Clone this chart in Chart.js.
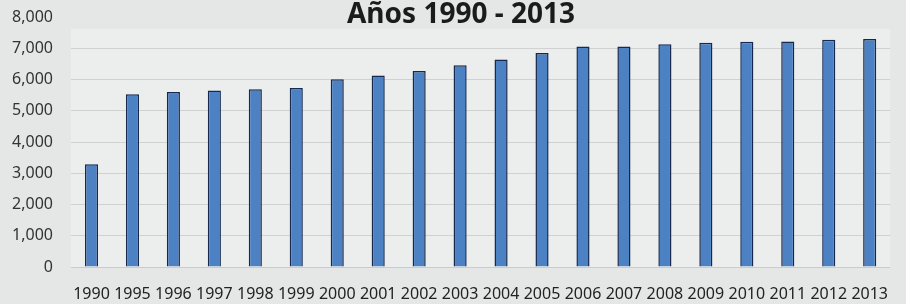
<!DOCTYPE html>
<html>
<head>
<meta charset="utf-8">
<script src="https://cdn.jsdelivr.net/npm/chart.js@4"></script>
<style>
    html, body { margin: 0; padding: 0; background: #e5e6e6; }
    #wrap { width: 906px; height: 304px; }
</style>
</head>
<body>
<div id="wrap"><canvas id="chart"></canvas></div>
<script>
// datos
const years = ['1990', '1995', '1996', '1997', '1998', '1999', '2000', '2001', '2002', '2003',
    '2004', '2005', '2006', '2007', '2008', '2009', '2010', '2011', '2012', '2013'];
const values = [3290, 5530, 5600, 5650, 5690, 5730, 6010, 6130, 6270, 6460,
    6640, 6850, 7060, 7060, 7130, 7180, 7210, 7220, 7270, 7300];
const titleText = 'Años 1990 - 2013';
const yMax = 8000;
const yStep = 1000;

Chart.defaults.font.family = "'Noto Sans', sans-serif";

const bgPlugin = {
    id: 'bg',
    beforeDraw(chart) {
        const ctx = chart.ctx;
        const a = chart.chartArea;
        ctx.save();
        ctx.fillStyle = '#e5e6e6';
        ctx.fillRect(0, 0, chart.width, chart.height);
        ctx.fillStyle = '#eceeed';
        ctx.fillRect(a.left, a.top + 12, a.right - a.left, a.bottom - a.top - 12);
        ctx.restore();
    },
    afterDraw(chart) {
        const ctx = chart.ctx;
        ctx.save();
        ctx.font = "bold 28px 'Noto Sans', sans-serif";
        ctx.fillStyle = '#1b1b1b';
        ctx.textAlign = 'center';
        ctx.textBaseline = 'alphabetic';
        ctx.fillText(titleText, 461, 23);
        ctx.restore();
    }
};

const ctx = document.getElementById('chart').getContext('2d');
const chart = new Chart(ctx, {
    type: 'bar',
    data: {
        labels: years,
        datasets: [{
            data: values,
            backgroundColor: '#4c82c4',
            borderColor: '#17284f',
            borderWidth: 1.5,
            categoryPercentage: 1,
            barPercentage: 0.32
        }]
    },
    options: {
        responsive: true,
        maintainAspectRatio: false,
        animation: false,
        layout: { padding: { top: 17, left: 0, right: 0, bottom: 0 } },
        plugins: {
            legend: { display: false },
            title: { display: false },
            tooltip: { enabled: false }
        },
        scales: {
            x: {
                grid: { display: false, drawTicks: false },
                border: { display: false },
                ticks: { color: '#222', font: { size: 16 }, padding: 18, maxRotation: 0, autoSkip: false },
                afterFit: s => { s.height = 37; }
            },
            y: {
                min: 0,
                max: yMax,
                grid: {
                    color: c => c.tick && c.tick.value === yMax ? 'rgba(0,0,0,0)' : 'rgba(140,145,145,0.3)',
                    drawTicks: false
                },
                border: { display: false },
                ticks: {
                    stepSize: yStep,
                    color: '#333',
                    font: { size: 16 },
                    padding: 18,
                    callback: v => v.toLocaleString('en-US')
                },
                afterFit: s => { s.width = 71; s.paddingTop = 0; s.paddingBottom = 0; }
            }
        }
    },
    plugins: [bgPlugin]
});
</script>
</body>
</html>
